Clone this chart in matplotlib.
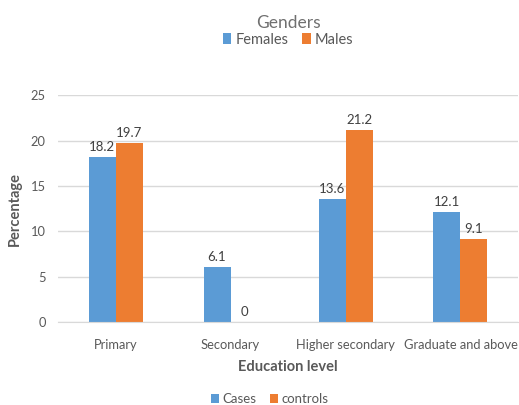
import matplotlib.pyplot as plt
import numpy as np

# education levels and percentages for each group
levels = ["Primary", "Secondary", "Higher secondary", "Graduate and above"]
females = [18.2, 6.1, 13.6, 12.1]
males = [19.7, 0, 21.2, 9.1]

blue = "#5B9BD5"
orange = "#ED7D31"
grey = "#595959"

plt.rcParams['font.family'] = ['Lato', 'DejaVu Sans']

fig = plt.figure(figsize=(5.19, 4.05), dpi=100)
ax = fig.add_axes([0.112, 0.205, 0.886, 0.56])

x = np.arange(len(levels))
w = 0.235
b1 = ax.bar(x - w / 2, females, w, color=blue)
b2 = ax.bar(x + w / 2, males, w, color=orange)

# value labels above the bars
for bars, vals in [(b1, females), (b2, males)]:
    for bar, v in zip(bars, vals):
        ax.text(bar.get_x() + bar.get_width() / 2, v + 0.45, f"{v:g}",
                ha="center", va="bottom", fontsize=9.5, color="#404040")

ax.set_xlim(-0.5, 3.5)
ax.set_ylim(0, 25)
ax.set_yticks(range(0, 26, 5))
ax.set_xticks(x)
ax.set_xticklabels(levels)
ax.yaxis.grid(True, color="#d9d9d9", linewidth=1)
ax.set_axisbelow(True)
for s in ["top", "right", "left"]:
    ax.spines[s].set_visible(False)
ax.spines["bottom"].set_color("#d9d9d9")
ax.tick_params(axis="both", length=0, colors=grey, labelsize=9.3)
ax.tick_params(axis="x", pad=12)
ax.tick_params(axis="y", pad=9)

ax.set_ylabel("Percentage", fontsize=10.5, fontweight="bold", color=grey, labelpad=6)
ax.set_xlabel("Education level", fontsize=10.5, fontweight="bold", color=grey, labelpad=7)

# top legend with title
top = fig.legend([b1, b2], ["Females", "Males"], title="Genders", loc="upper center",
                 bbox_to_anchor=(0.555, 0.995), ncol=2, frameon=False, fontsize=10.5,
                 title_fontsize=12.5, handlelength=0.6, handleheight=0.7,
                 handletextpad=0.3, columnspacing=0.9, labelcolor=grey,
                 labelspacing=0.2)
top.get_title().set_color("#707070")
top._legend_box.sep = 1

# bottom legend
fig.legend([b1, b2], ["Cases", "controls"], loc="lower center",
           bbox_to_anchor=(0.52, -0.03), ncol=2, frameon=False, fontsize=9.5,
           handlelength=0.6, handleheight=0.7, handletextpad=0.3,
           columnspacing=1.0, labelcolor=grey)

fig.savefig("out.png", dpi=100)
